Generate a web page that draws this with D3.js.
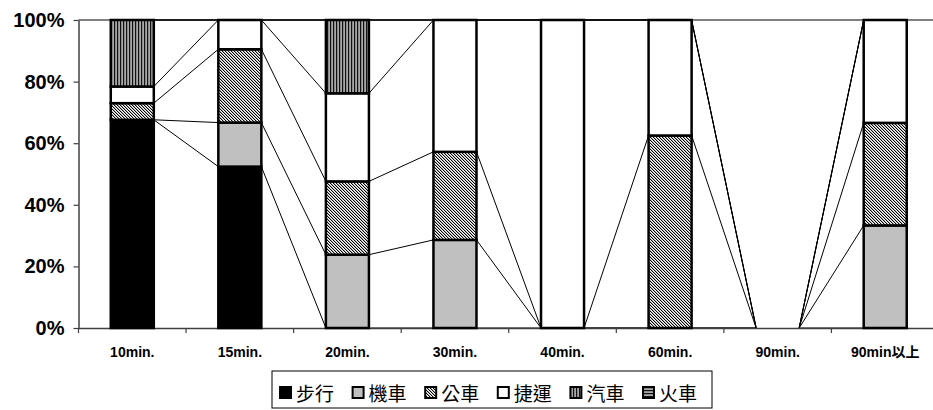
<!DOCTYPE html>
<html>
<head>
<meta charset="utf-8">
<script src="https://cdn.jsdelivr.net/npm/d3@7"></script>
<style>
  html, body { margin: 0; padding: 0; background: #fff; }
  svg { display: block; }
</style>
</head>
<body>
<svg id="chart" width="933" height="410"></svg>
<script>
// ---- data (percent of each time category) ----
const categories = ["10min.", "15min.", "20min.", "30min.", "40min.", "60min.", "90min.", "90min以上"];
const seriesNames = ["步行", "機車", "公車", "捷運", "汽車", "火車"];
const walk  = [67.6, 52.4, 0,    0,    0,   0,    0, 0];
const scooter = [0,  14.3, 23.8, 28.6, 0,   0,    0, 33.3];
const bus   = [5.4,  23.8, 23.8, 28.6, 0,   62.5, 0, 33.3];
const mrt   = [5.4,  9.5,  28.6, 42.8, 100, 37.5, 0, 33.4];
const car   = [21.6, 0,    23.8, 0,    0,   0,    0, 0];
const train = [0,    0,    0,    0,    0,   0,    0, 0];
const yTicks = [0, 20, 40, 60, 80, 100];

const seriesValues = [walk, scooter, bus, mrt, car, train];
const table = categories.map((c, i) => {
  const row = { cat: c };
  seriesNames.forEach((s, k) => row[s] = seriesValues[k][i]);
  return row;
});

const svg = d3.select("#chart");
const defs = svg.append("defs");

// patterns
const pBus = defs.append("pattern").attr("id", "pBus").attr("patternUnits", "userSpaceOnUse")
  .attr("width", 3).attr("height", 3);
pBus.append("rect").attr("width", 3).attr("height", 3).attr("fill", "#fff");
for (let r = 0; r < 3; r++) {
  pBus.append("rect").attr("x", r % 3).attr("y", r).attr("width", 1).attr("height", 1).attr("fill", "#000");
  pBus.append("rect").attr("x", (r + 1) % 3).attr("y", r).attr("width", 1).attr("height", 1).attr("fill", "#b0b0b0");
}

const pCar = defs.append("pattern").attr("id", "pCar").attr("patternUnits", "userSpaceOnUse")
  .attr("width", 3).attr("height", 3);
pCar.append("rect").attr("width", 3).attr("height", 3).attr("fill", "#a8a8a8");
pCar.append("rect").attr("x", 0).attr("width", 1.2).attr("height", 3).attr("fill", "#111");

const pTrain = defs.append("pattern").attr("id", "pTrain").attr("patternUnits", "userSpaceOnUse")
  .attr("width", 3).attr("height", 3);
pTrain.append("rect").attr("width", 3).attr("height", 3).attr("fill", "#a8a8a8");
pTrain.append("rect").attr("y", 0).attr("width", 3).attr("height", 1.2).attr("fill", "#111");

const fills = {
  "步行": "#000000",
  "機車": "#c0c0c0",
  "公車": "url(#pBus)",
  "捷運": "#ffffff",
  "汽車": "url(#pCar)",
  "火車": "url(#pTrain)"
};

// ---- scales ----
const plotLeft = 78.5, plotRight = 939, plotTop = 20, plotBottom = 328;
const x = d3.scaleBand().domain(categories).range([plotLeft, plotRight]).padding(0);
const y = d3.scaleLinear().domain([0, 100]).range([plotBottom, plotTop]);
const barFrac = 0.4;
const bw = x.bandwidth() * barFrac;
const bx = c => x(c) + (x.bandwidth() - bw) / 2;

const stack = d3.stack().keys(seriesNames);
const stacked = stack(table);

// plot area top border (gray)
svg.append("line").attr("x1", plotLeft).attr("x2", 933).attr("y1", plotTop).attr("y2", plotTop)
  .attr("stroke", "#808080").attr("stroke-width", 2);

// series lines
const lineG = svg.append("g");
stacked.forEach(layer => {
  for (let i = 0; i < categories.length - 1; i++) {
    const a = layer[i], b = layer[i + 1];
    lineG.append("line")
      .attr("x1", bx(categories[i]) + bw).attr("y1", y(a[1]))
      .attr("x2", bx(categories[i + 1])).attr("y2", y(b[1]))
      .attr("stroke", "#000").attr("stroke-width", 1);
  }
});

// axes
const yAxis = d3.axisLeft(y).tickValues(yTicks).tickFormat(d => d + "%").tickSize(5).tickSizeOuter(0);
const gy = svg.append("g").attr("transform", `translate(${plotLeft},0)`).call(yAxis);
gy.select(".domain").attr("stroke", "#404040").attr("stroke-width", 1.5);
gy.selectAll(".tick line").attr("stroke", "#404040").attr("stroke-width", 1.2);
gy.selectAll(".tick text").attr("x", -14)
  .style("font-family", "'Liberation Sans', Arial, sans-serif")
  .style("font-weight", "bold").style("font-size", "20px").attr("fill", "#000");

const xAxis = d3.axisBottom(x).tickSize(0).tickSizeOuter(0);
const gx = svg.append("g").attr("transform", `translate(0,${plotBottom})`).call(xAxis);
gx.select(".domain").attr("stroke", "#404040").attr("stroke-width", 1.5);
gx.selectAll(".tick text").attr("y", 19)
  .style("font-family", "'Liberation Sans', 'Noto Sans CJK TC', Arial, sans-serif")
  .style("font-weight", "bold").style("font-size", "14px").attr("fill", "#000");
// boundary tick marks
gx.selectAll(".bound").data(categories).enter().append("line")
  .attr("x1", d => x(d)).attr("x2", d => x(d)).attr("y1", 0).attr("y2", 5)
  .attr("stroke", "#404040").attr("stroke-width", 1.2);

// bars
const barG = svg.append("g");
stacked.forEach(layer => {
  const key = layer.key;
  barG.selectAll(null).data(layer.filter(d => d[1] - d[0] > 0)).enter().append("rect")
    .attr("x", d => bx(d.data.cat))
    .attr("y", d => y(d[1]))
    .attr("width", bw)
    .attr("height", d => y(d[0]) - y(d[1]))
    .attr("fill", fills[key])
    .attr("stroke", "#000").attr("stroke-width", 2.5);
});

// legend
const legX = 272, legY = 371, legW = 440, legH = 37;
const lg = svg.append("g");
lg.append("rect").attr("x", legX).attr("y", legY).attr("width", legW).attr("height", legH)
  .attr("fill", "#fff").attr("stroke", "#000").attr("stroke-width", 1);
const step = 72.6;
seriesNames.forEach((s, i) => {
  const ix = 280 + i * step;
  lg.append("rect").attr("x", ix).attr("y", 387).attr("width", 11).attr("height", 11)
    .attr("fill", fills[s]).attr("stroke", "#000").attr("stroke-width", 2);
  lg.append("text").attr("x", ix + 16).attr("y", 401).text(s)
    .style("font-family", "'Noto Sans CJK TC', 'Noto Sans CJK SC', sans-serif")
    .style("font-size", "19px").attr("fill", "#000");
});
</script>
</body>
</html>
